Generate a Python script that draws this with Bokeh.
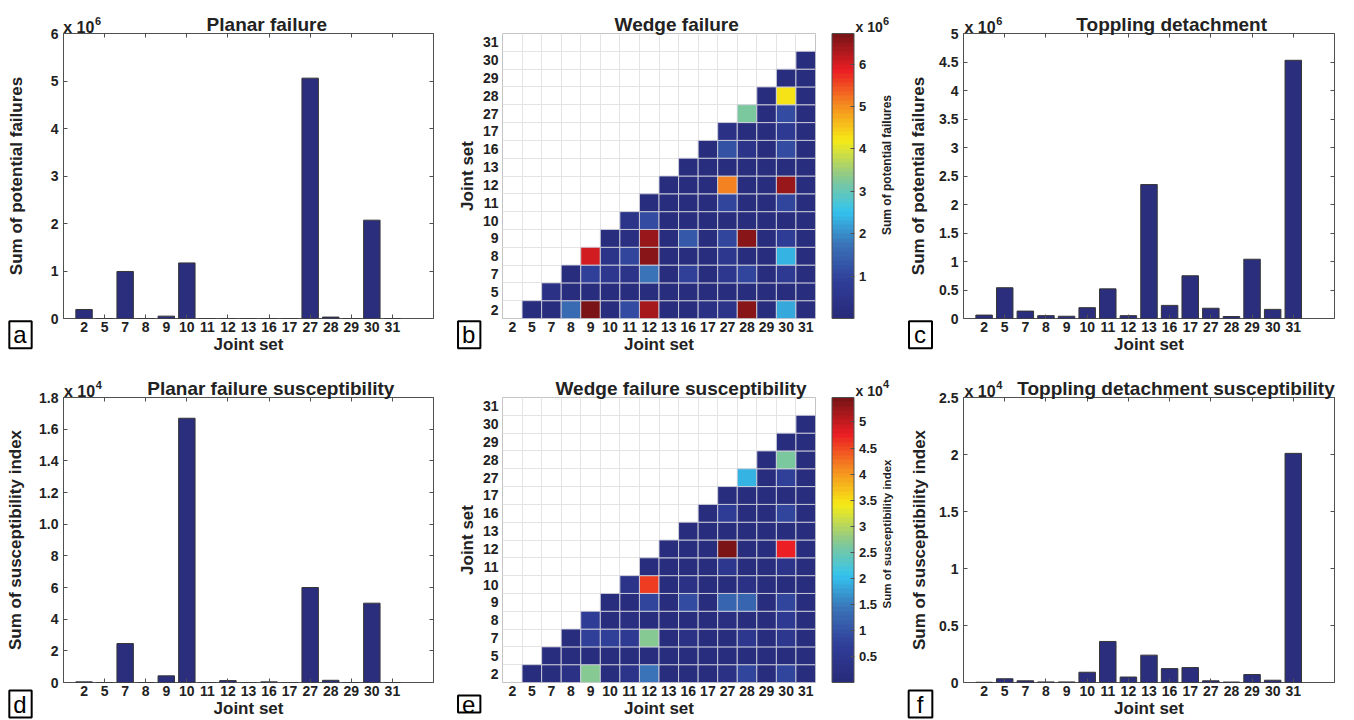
import math
from bokeh.plotting import figure
from bokeh.models import (Range1d, FixedTicker, LinearAxis, Label,
                          ColorBar, LinearColorMapper, ColumnDataSource, GridBox)
from bokeh.embed import file_html
from bokeh.resources import INLINE

# ---------------------------------------------------------------- data
JOINT_SETS = ["2", "5", "7", "8", "9", "10", "11", "12", "13", "16", "17", "27", "28", "29", "30", "31"]

# bar charts (values in the units of the axis multiplier)
PLANAR_FAILURES = [0.19, 0.0, 0.99, 0.0, 0.05, 1.17, 0.0, 0.0, 0.0, 0.0, 0.0, 5.06, 0.03, 0.0, 2.07, 0.0]          # x 10^6
TOPPLING_FAILURES = [0.06, 0.54, 0.13, 0.05, 0.04, 0.19, 0.52, 0.05, 2.35, 0.23, 0.75, 0.18, 0.035, 1.04, 0.16, 4.53]  # x 10^6
PLANAR_SUSCEPT = [0.004, 0.0, 0.246, 0.0, 0.042, 1.669, 0.0, 0.012, 0.0, 0.004, 0.0, 0.600, 0.014, 0.0, 0.501, 0.0]  # x 10^4
TOPPLING_SUSCEPT = [0.002, 0.033, 0.015, 0.005, 0.005, 0.090, 0.360, 0.048, 0.240, 0.122, 0.131, 0.015, 0.004, 0.070, 0.020, 2.010]  # x 10^4

PLANAR_FAIL_TICKS = [0, 1, 2, 3, 4, 5, 6]
TOPPLING_FAIL_TICKS = [0, 0.5, 1, 1.5, 2, 2.5, 3, 3.5, 4, 4.5, 5]
PLANAR_SUSC_TICKS = [0, 0.2, 0.4, 0.6, 0.8, 1.0, 1.2, 1.4, 1.6, 1.8]
PLANAR_SUSC_TICK_LABELS = ["0", "2", "4", "6", "8", "1.0", "1.2", "1.4", "1.6", "1.8"]
TOPPLING_SUSC_TICKS = [0, 0.5, 1, 1.5, 2, 2.5]

# wedge matrices: row i (joint set JOINT_SETS[i]) holds the cells for columns JOINT_SETS[i+1:]
WEDGE_FAILURES = [  # x 10^6
    [0.2, 0.2, 1.6, 6.72, 0.2, 1.05, 6.35, 0.2, 0.2, 0.35, 0.45, 6.6, 0.2, 2.3, 0.2],
    [0.35, 0.2, 0.2, 0.2, 0.2, 0.2, 0.2, 0.2, 0.2, 0.2, 0.2, 0.2, 0.2, 0.2],
    [0.2, 0.9, 0.6, 0.5, 1.75, 0.2, 0.9, 0.2, 0.55, 1.0, 0.2, 0.7, 0.2],
    [6.05, 0.45, 1.0, 6.6, 0.2, 0.2, 0.2, 0.6, 0.2, 0.2, 2.35, 0.2],
    [0.2, 0.25, 6.5, 0.2, 1.35, 0.2, 0.95, 6.6, 0.2, 0.75, 0.2],
    [0.5, 1.1, 0.2, 0.2, 0.2, 0.2, 0.2, 0.2, 0.2, 0.2],
    [0.2, 0.2, 0.2, 0.2, 1.0, 0.2, 0.2, 1.0, 0.2],
    [0.2, 0.2, 0.2, 5.1, 0.2, 0.2, 6.45, 0.2],
    [0.2, 0.2, 0.2, 0.2, 0.2, 0.2, 0.2],
    [0.2, 1.25, 0.45, 0.2, 1.1, 0.2],
    [0.35, 0.2, 0.2, 0.7, 0.2],
    [3.15, 0.2, 1.05, 0.2],
    [0.2, 4.2, 0.2],
    [0.2, 0.2],
    [0.2],
    [],
]
WEDGE_SUSCEPT = [  # x 10^4
    [0.1, 0.15, 0.3, 2.7, 0.15, 0.35, 1.4, 0.1, 0.1, 0.1, 0.3, 0.8, 0.1, 0.85, 0.1],
    [0.1, 0.1, 0.1, 0.1, 0.1, 0.1, 0.1, 0.1, 0.1, 0.1, 0.1, 0.1, 0.1, 0.1],
    [0.1, 0.7, 0.75, 0.55, 2.7, 0.1, 0.3, 0.1, 0.15, 0.45, 0.1, 0.45, 0.1],
    [0.65, 0.15, 0.2, 0.15, 0.1, 0.1, 0.1, 0.2, 0.1, 0.1, 0.55, 0.1],
    [0.15, 0.15, 0.85, 0.1, 0.9, 0.1, 1.25, 1.2, 0.1, 0.85, 0.1],
    [0.4, 4.55, 0.1, 0.3, 0.1, 0.15, 0.3, 0.1, 0.15, 0.1],
    [0.1, 0.1, 0.1, 0.1, 0.5, 0.1, 0.1, 0.35, 0.1],
    [0.1, 0.1, 0.1, 5.47, 0.1, 0.1, 4.75, 0.1],
    [0.1, 0.1, 0.1, 0.1, 0.1, 0.1, 0.1],
    [0.1, 0.6, 0.1, 0.1, 0.8, 0.1],
    [0.15, 0.1, 0.1, 0.15, 0.1],
    [1.95, 0.1, 0.7, 0.1],
    [0.1, 2.6, 0.1],
    [0.1, 0.1],
    [0.1],
    [],
]
WEDGE_FAIL_CB_TICKS = [1, 2, 3, 4, 5, 6]
WEDGE_SUSC_CB_TICKS = [0.5, 1, 1.5, 2, 2.5, 3, 3.5, 4, 4.5, 5]
WEDGE_FAIL_MAX = 6.72
WEDGE_SUSC_MAX = 5.47

# ---------------------------------------------------------------- style
FONT = "Liberation Sans"
TXT = "#222222"
EDGE = "#505050"
BAR = "#2b2e7c"
FRAME_H = 285

# printed "jet" colour scale (64 bands)
JET_ANCHORS = [(0.0, (40, 42, 122)), (0.125, (48, 62, 152)), (0.25, (58, 112, 182)),
               (0.375, (52, 196, 238)), (0.5, (140, 201, 140)), (0.625, (246, 235, 22)),
               (0.75, (245, 140, 32)), (0.875, (236, 30, 36)), (1.0, (122, 20, 22))]


def jet(t):
    for (t0, c0), (t1, c1) in zip(JET_ANCHORS[:-1], JET_ANCHORS[1:]):
        if t <= t1:
            f = (t - t0) / (t1 - t0)
            return "#%02x%02x%02x" % tuple(int(round(a + (b - a) * f)) for a, b in zip(c0, c1))
    return "#%02x%02x%02x" % JET_ANCHORS[-1][1]


PALETTE = [jet(i / 63) for i in range(64)]


def fmt(v):
    return "%g" % v


def style_axis(ax, label_size="14px"):
    ax.major_label_text_font = FONT
    ax.major_label_text_font_size = label_size
    ax.major_label_text_font_style = "bold"
    ax.major_label_text_color = TXT
    ax.axis_label_text_font = FONT
    ax.axis_label_text_font_size = "17px"
    ax.axis_label_text_font_style = "bold"
    ax.axis_label_text_color = TXT
    ax.axis_line_color = None


def bar_panel(values, yticks, ylabels, ymax, ylabel, width, left, right, top, bottom, ylab_standoff):
    p = figure(width=width, height=top + FRAME_H + bottom, x_range=Range1d(0, 18), y_range=Range1d(0, ymax),
               output_backend="svg", toolbar_location=None, tools="",
               min_border_left=left, min_border_right=right, min_border_top=top, min_border_bottom=bottom)
    p.grid.visible = False
    p.outline_line_color = EDGE
    p.outline_line_width = 1
    xpos = [i + 1 for i in range(len(JOINT_SETS))]
    src = ColumnDataSource(dict(x=xpos, top=values, name=JOINT_SETS))
    p.vbar(x="x", top="top", width=0.8, source=src, fill_color=BAR, line_color="#363636", line_width=1)

    even = list(range(0, 19, 2))
    xa = p.xaxis[0]
    style_axis(xa)
    xa.ticker = FixedTicker(ticks=xpos, minor_ticks=even)
    xa.major_label_overrides = {x: s for x, s in zip(xpos, JOINT_SETS)}
    xa.major_tick_in = 0
    xa.major_tick_out = 0
    xa.minor_tick_in = 4
    xa.minor_tick_out = 0
    xa.minor_tick_line_color = EDGE
    xa.major_label_standoff = 3
    xa.axis_label = "Joint set"
    xa.axis_label_standoff = 0

    ya = p.yaxis[0]
    style_axis(ya)
    ya.ticker = FixedTicker(ticks=yticks)
    ya.major_label_overrides = {t: s for t, s in zip(yticks, ylabels)}
    ya.major_tick_in = 4
    ya.major_tick_out = 0
    ya.minor_tick_line_color = None
    ya.major_tick_line_color = EDGE
    ya.major_label_standoff = 5
    ya.axis_label = ylabel
    ya.axis_label_standoff = ylab_standoff

    top_ax = LinearAxis(ticker=FixedTicker(ticks=even), major_label_overrides={t: "" for t in even},
                        major_label_text_font_size="0px", major_label_standoff=0,
                        major_tick_in=4, major_tick_out=0, major_tick_line_color=EDGE,
                        minor_tick_line_color=None, axis_line_color=None)
    p.add_layout(top_ax, "above")
    right_ax = LinearAxis(ticker=FixedTicker(ticks=yticks), major_label_overrides={t: "" for t in yticks},
                          major_label_text_font_size="0px", major_label_standoff=0,
                          major_tick_in=4, major_tick_out=0, major_tick_line_color=EDGE,
                          minor_tick_line_color=None, axis_line_color=None)
    p.add_layout(right_ax, "right")
    return p


def heat_panel(rows, high, cb_ticks, top, bottom):
    p = figure(width=451, height=top + FRAME_H + bottom, x_range=Range1d(0.5, 16.5), y_range=Range1d(0.5, 16.5),
               output_backend="svg", toolbar_location=None, tools="",
               min_border_left=51, min_border_right=87, min_border_top=top, min_border_bottom=bottom)
    xs, ys, vs = [], [], []
    for r, vals in enumerate(rows):
        for k, v in enumerate(vals):
            xs.append(r + 2 + k)
            ys.append(r + 1)
            vs.append(v)
    src = ColumnDataSource(dict(x=xs, y=ys, v=vs))
    mapper = LinearColorMapper(palette=PALETTE, low=0, high=high)
    p.rect(x="x", y="y", width=1, height=1, source=src, fill_color={"field": "v", "transform": mapper},
           line_color="#cfd0dc", line_width=1, line_alpha=0.9)

    bounds = [i + 0.5 for i in range(17)]
    p.xgrid.ticker = FixedTicker(ticks=bounds)
    p.ygrid.ticker = FixedTicker(ticks=bounds)
    p.grid.grid_line_color = "#e4e4e4"
    p.grid.grid_line_width = 1
    p.outline_line_color = "#c4c4c4"

    pos = [i + 1 for i in range(len(JOINT_SETS))]
    for ax, st, ls in ((p.xaxis[0], 0, 3), (p.yaxis[0], 3, 4)):
        style_axis(ax)
        ax.ticker = FixedTicker(ticks=pos)
        ax.major_label_overrides = {x: s for x, s in zip(pos, JOINT_SETS)}
        ax.major_tick_in = 0
        ax.major_tick_out = 0
        ax.minor_tick_line_color = None
        ax.major_label_standoff = ls
        ax.axis_label = "Joint set"
        ax.axis_label_standoff = st

    cb = ColorBar(color_mapper=mapper, ticker=FixedTicker(ticks=cb_ticks),
                  major_label_overrides={t: fmt(t) for t in cb_ticks},
                  width=22, height=FRAME_H, location=(329.5, 0), padding=0, margin=0,
                  bar_line_color=EDGE, major_tick_line_color=EDGE, major_tick_in=4, major_tick_out=0,
                  minor_tick_line_color=None, label_standoff=5,
                  major_label_text_font=FONT, major_label_text_font_size="13px",
                  major_label_text_font_style="bold", major_label_text_color=TXT,
                  background_fill_color=None, border_line_color=None)
    p.add_layout(cb)
    return p


# ------------------------------------------------ transparent text layers (one per panel)
# The layer shares the panel's frame; its ranges are page pixels, so every text is placed
# in page coordinates.  Texts live in the (empty) side panels of the layer, so they are
# not clipped to the frame.
def text_layer(w, h, x0, y0, left, top, right, bottom, items):
    fl, ft = x0 + left, y0 + top
    fr, fb = x0 + w - right, y0 + h - bottom
    o = figure(width=w, height=h, x_range=Range1d(fl, fr), y_range=Range1d(fb, ft),
               output_backend="svg", toolbar_location=None, tools="",
               x_axis_type=None, y_axis_type=None,
               min_border_left=left, min_border_right=right, min_border_top=top, min_border_bottom=bottom)
    o.grid.visible = False
    o.outline_line_color = None
    o.background_fill_color = None
    o.border_fill_color = None
    for side, lab in items:
        o.add_layout(lab, side)
    return o


def T(x, y, text, size, style="bold", align="left", baseline="alphabetic", angle=0.0):
    return Label(x=x, y=y, text=text, text_font=FONT, text_font_size=size, text_font_style=style,
                 text_align=align, text_baseline=baseline, angle=angle, text_color=TXT)


LETTER_W = {"a": 0.556, "b": 0.556, "c": 0.5, "d": 0.556, "e": 0.556, "f": 0.278}


def LETTER(cx, cy, letter, size=24, box_w=23):
    pad = max(0.0, (box_w - LETTER_W[letter] * size) / 2.0)
    pl, pr = int(math.floor(pad)), int(math.ceil(pad))
    return Label(x=cx, y=cy, text=letter, text_font=FONT, text_font_size="%dpx" % size,
                 text_font_style="normal", text_color="black", text_align="center", text_baseline="middle",
                 padding=dict(left=pl, right=pr, top=0, bottom=0),
                 background_fill_color="white", border_line_color="black", border_line_width=2)


UP = math.pi / 2

# ---------------------------------------------------------------- panels
pa = bar_panel(PLANAR_FAILURES, PLANAR_FAIL_TICKS, [fmt(t) for t in PLANAR_FAIL_TICKS], 6,
               "Sum of potential failures", 451, 63, 18, 33, 44, 22)
pb = heat_panel(WEDGE_FAILURES, WEDGE_FAIL_MAX, WEDGE_FAIL_CB_TICKS, 33, 44)
pc = bar_panel(TOPPLING_FAILURES, TOPPLING_FAIL_TICKS, [fmt(t) for t in TOPPLING_FAIL_TICKS], 5,
               "Sum of potential failures", 452, 61, 20, 33, 44, 8)
pd = bar_panel(PLANAR_SUSCEPT, PLANAR_SUSC_TICKS, PLANAR_SUSC_TICK_LABELS, 1.8,
               "Sum of susceptibility index", 451, 63, 18, 35, 38, 11)
pe = heat_panel(WEDGE_SUSCEPT, WEDGE_SUSC_MAX, WEDGE_SUSC_CB_TICKS, 35, 38)
pf = bar_panel(TOPPLING_SUSCEPT, TOPPLING_SUSC_TICKS, [fmt(t) for t in TOPPLING_SUSC_TICKS], 2.5,
               "Sum of susceptibility index", 452, 61, 20, 35, 38, 7)

oa = text_layer(451, 362, 0, 0, 63, 33, 18, 44, [
    ("above", T(266.3, 24.3, "Planar failure", "19px", align="center")),
    ("left", T(62.7, 26.7, "x 10", "16px")),
    ("left", T(94.5, 20.0, "6", "11px")),
    ("below", LETTER(20.0, 334.2, "a")),
])
ob = text_layer(451, 362, 451, 0, 51, 33, 87, 44, [
    ("above", T(676.2, 24.3, "Wedge failure", "19px", align="center")),
    ("right", T(886.0, 164.5, "Sum of potential failures", "12px", align="center", baseline="middle", angle=UP)),
    ("right", T(855.0, 26.7, "x 10", "14px")),
    ("right", T(882.5, 20.0, "6", "11px")),
    ("below", LETTER(468.7, 334.2, "b")),
])
oc = text_layer(452, 362, 902, 0, 61, 33, 20, 44, [
    ("above", T(1171.2, 24.3, "Toppling detachment", "19px", align="center")),
    ("left", T(964.0, 26.7, "x 10", "16px")),
    ("left", T(995.8, 20.0, "6", "11px")),
    ("below", LETTER(920.0, 334.2, "c")),
])
od = text_layer(451, 358, 0, 362, 63, 35, 18, 38, [
    ("above", T(270.3, 388.3, "Planar failure susceptibility", "19px", align="center")),
    ("left", T(63.5, 390.7, "x 10", "16px")),
    ("left", T(95.3, 384.0, "4", "11px")),
    ("below", LETTER(20.0, 703.5, "d")),
])
oe = text_layer(451, 358, 451, 362, 51, 35, 87, 38, [
    ("above", T(680.5, 388.3, "Wedge failure susceptibility", "19px", align="center")),
    ("right", T(886.0, 533.5, "Sum of susceptibility index", "11.5px", align="center", baseline="middle", angle=UP)),
    ("right", T(855.0, 390.3, "x 10", "14px")),
    ("right", T(882.5, 383.6, "4", "11px")),
    ("below", LETTER(468.7, 703.5, "e")),
])
of = text_layer(452, 358, 902, 362, 61, 35, 20, 38, [
    ("above", T(1175.5, 388.3, "Toppling detachment susceptibility", "19px", align="center")),
    ("left", T(964.0, 390.7, "x 10", "16px")),
    ("left", T(995.8, 384.0, "4", "11px")),
    ("below", LETTER(920.0, 703.5, "f")),
])

layout = GridBox(children=[
    (pa, 0, 0), (oa, 0, 0), (pb, 0, 1), (ob, 0, 1), (pc, 0, 2), (oc, 0, 2),
    (pd, 1, 0), (od, 1, 0), (pe, 1, 1), (oe, 1, 1), (pf, 1, 2), (of, 1, 2),
], spacing=0)

with open("out.html", "w") as fh:
    fh.write(file_html(layout, INLINE, title="Joint set failure analysis"))
